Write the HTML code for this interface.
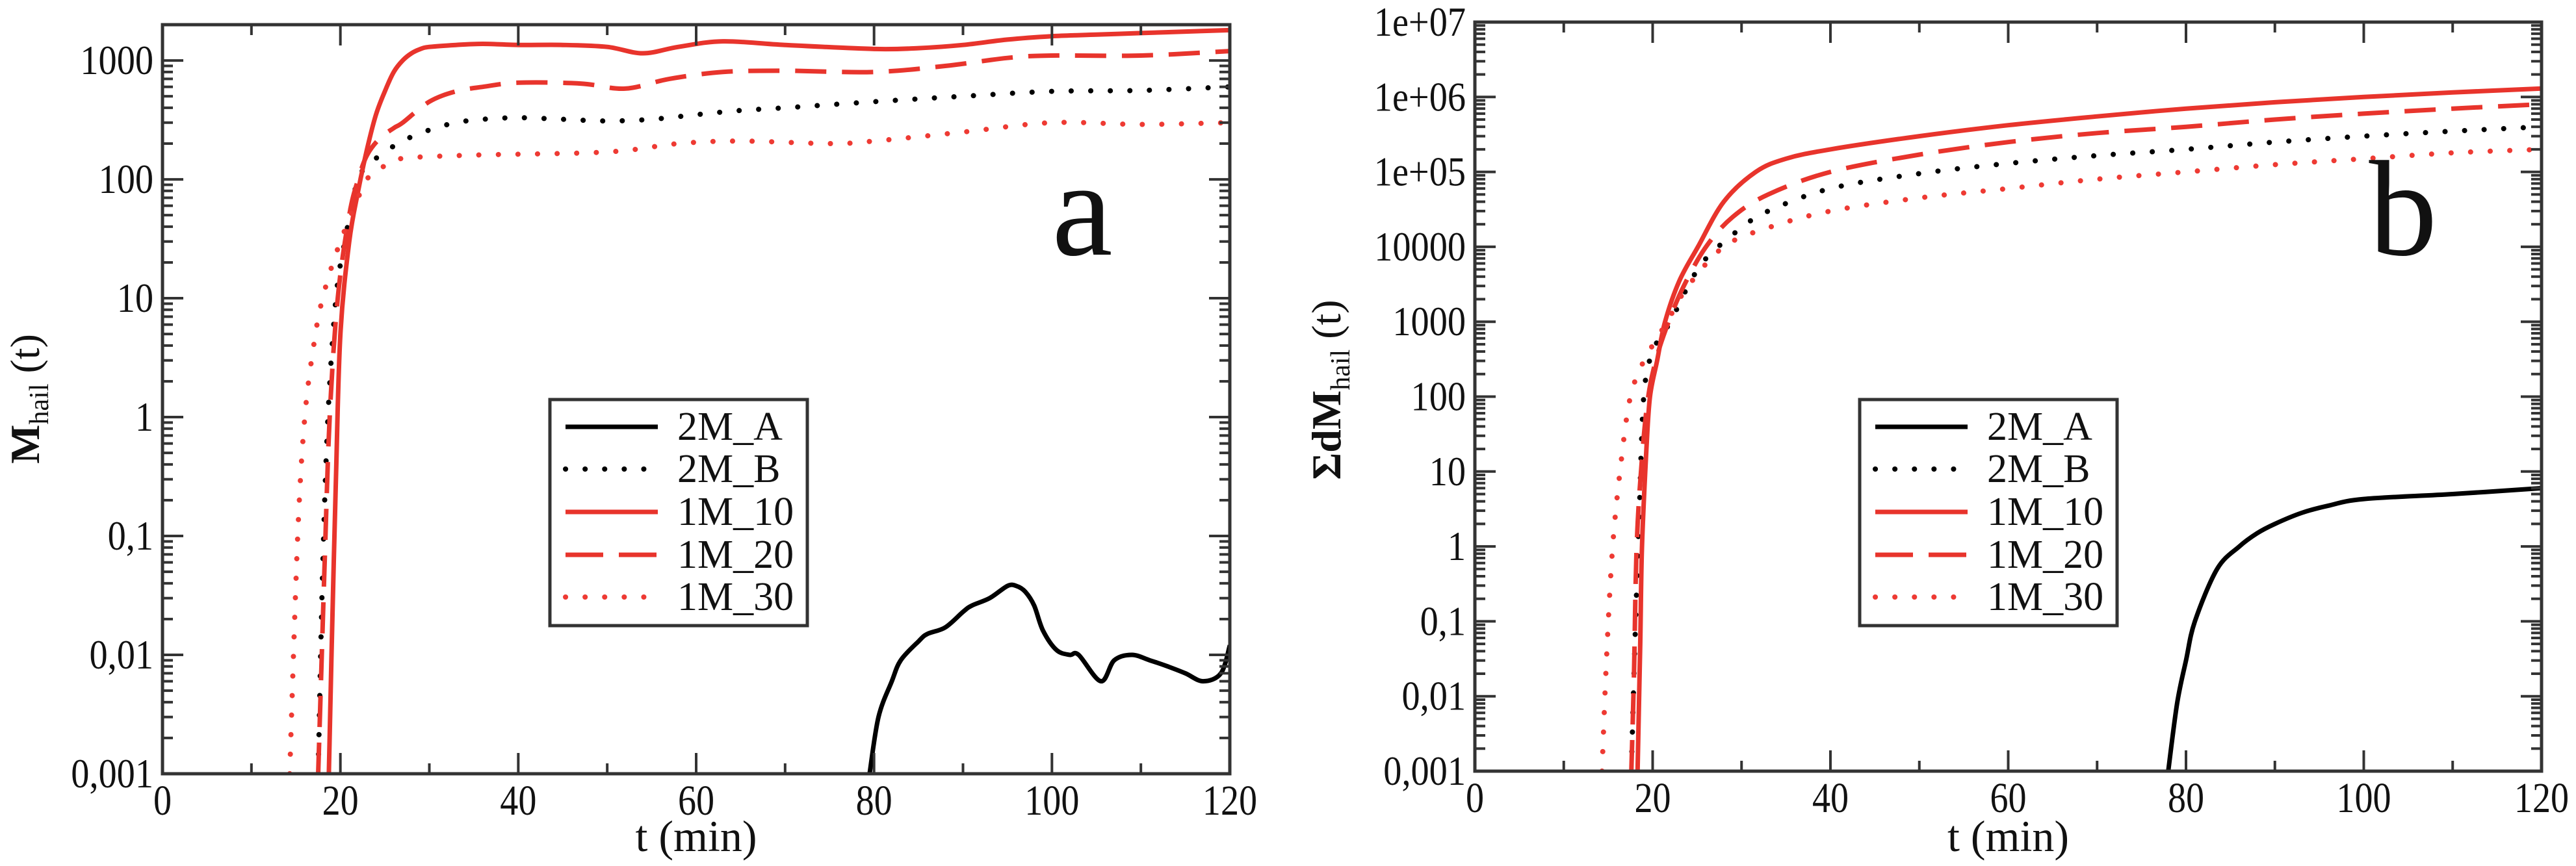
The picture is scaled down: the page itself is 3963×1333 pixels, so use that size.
<!DOCTYPE html>
<html><head><meta charset="utf-8"><style>
html,body{margin:0;padding:0;background:#fff;}
svg{display:block;font-family:"Liberation Serif","DejaVu Serif",serif;}
text{font-family:"Liberation Serif","DejaVu Serif",serif;}
</style></head><body>
<svg id="chart" xmlns="http://www.w3.org/2000/svg" width="3963" height="1333" viewBox="0 0 3963 1333">
<rect x="0" y="0" width="3963" height="1333" fill="#fff"/>
</svg>
<script>
// ---------- Data (panel a) ----------
const xTicks = [0,20,40,60,80,100,120];
const xTickLabels = ["0","20","40","60","80","100","120"];
const yTicksA = [0.001,0.01,0.1,1,10,100,1000];
const yTickLabelsA = ["0,001","0,01","0,1","1","10","100","1000"];
const yTicksB = [0.001,0.01,0.1,1,10,100,1000,10000,1e5,1e6,1e7];
const yTickLabelsB = ["0,001","0,01","0,1","1","10","100","1000","10000","1e+05","1e+06","1e+07"];
const seriesNames = ["2M_A","2M_B","1M_10","1M_20","1M_30"];

const a_2MA_t = [79.5,80.5,82,83,85,86,88,90,91,93,95,96,97,98,99,100.5,102,103,105.5,107,109,111,113,115,117,119,120];
const a_2MA_v = [0.001,0.003,0.006,0.009,0.013,0.015,0.017,0.023,0.026,0.03,0.038,0.038,0.034,0.026,0.016,0.011,0.01,0.01,0.006,0.009,0.01,0.009,0.008,0.007,0.006,0.007,0.012];
const a_2MB_t = [17.5,18,18.6,19.5,20.5,22,24,27,30,33,36,40,45,50,55,60,65,70,80,90,100,110,120];
const a_2MB_v = [0.001,0.05,1,10,30,100,150,210,260,300,320,330,320,310,320,350,380,400,450,500,550,560,600];
const a_1M10_t = [18.7,19,19.5,20,21,22,23,24,25,26,27,28,29,30,33,36,40,45,50,54,58,63,70,80,85,90,95,100,105,110,115,120];
const a_1M10_v = [0.001,0.01,0.3,5,30,80,180,350,550,800,1000,1150,1250,1300,1350,1380,1350,1350,1300,1150,1300,1450,1350,1250,1270,1350,1500,1600,1650,1700,1750,1800];
const a_1M20_t = [17.5,18.2,18.8,19.7,21,22,23,24.4,26,27,30,33,36,40,47,52,57,63,70,80,88,95,100,110,120];
const a_1M20_v = [0.001,0.05,1,10,50,100,160,220,270,300,450,550,600,650,640,580,700,800,820,800,900,1050,1100,1100,1200];
const a_1M30_t = [14.3,15.2,16,17,18,20,23,25,27,35,50,58,65,75,80,90,100,110,120];
const a_1M30_v = [0.001,0.1,1,4,10,30,100,130,150,160,170,200,210,200,210,250,300,290,300];

// ---------- Data (panel b) ----------
const b_2MA_t = [78,79,80,81,83.5,86,88,90,93,96,100,110,120];
const b_2MA_v = [0.001,0.008,0.03,0.1,0.5,1,1.5,2,2.8,3.5,4.3,5,6];
const b_2MB_t = [17.6,18,18.5,19,20,22,24,26,30,33,40,50,60,70,80,90,100,110,120];
const b_2MB_v = [0.001,0.05,3,100,400,1000,3000,7000,18000,30000,60000,95000,130000,165000,200000,250000,300000,350000,400000];
const b_1M10_t = [18.3,18.6,18.8,19.3,19.7,20.5,21.4,23,25.1,28,31.6,35,40,50,60,70,80,90,100,110,120];
const b_1M10_v = [0.001,0.05,1,20,100,300,1000,3500,10000,40000,100000,150000,200000,300000,420000,550000,700000,850000,1000000,1150000,1300000];
const b_1M20_t = [17.6,17.9,18.2,18.8,19.5,20.5,21.8,23.5,26,29,33,40,50,60,70,80,90,100,110,120];
const b_1M20_v = [0.001,0.02,1,15,100,350,1000,3000,10000,25000,50000,100000,170000,250000,330000,400000,500000,600000,700000,800000];
const b_1M30_t = [14.3,14.8,15.5,16.5,17.5,19,20.5,22,24,28,33,40,50,60,70,80,90,100,110,120];
const b_1M30_v = [0.001,0.03,1,15,100,300,600,1200,3000,10000,18000,30000,45000,60000,80000,100000,125000,150000,180000,200000];

const NS = "http://www.w3.org/2000/svg";
const FONT = '"Liberation Serif","DejaVu Serif",serif';
const svg = document.getElementById('chart');
function el(tag, attrs, parent){const e=document.createElementNS(NS,tag);for(const k in attrs)e.setAttribute(k,attrs[k]);(parent||svg).appendChild(e);return e;}

const styles = {
 "2M_A":{stroke:"#000",dash:null,w:7,cap:"butt"},
 "2M_B":{stroke:"#000",dash:"0.1 30",w:8,cap:"round"},
 "1M_10":{stroke:"#e8342c",dash:null,w:7,cap:"butt"},
 "1M_20":{stroke:"#e8342c",dash:"48 24",w:7,cap:"butt"},
 "1M_30":{stroke:"#ee3a33",dash:"0.1 30",w:8,cap:"round"}
};

function smoothPath(P){
 let d='M'+P[0][0].toFixed(1)+','+P[0][1].toFixed(1);
 for(let i=0;i<P.length-1;i++){
  const p0=P[i-1]||P[i],p1=P[i],p2=P[i+1],p3=P[i+2]||P[i+1];
  const c1=[p1[0]+(p2[0]-p0[0])/6,p1[1]+(p2[1]-p0[1])/6];
  const c2=[p2[0]-(p3[0]-p1[0])/6,p2[1]-(p3[1]-p1[1])/6];
  d+=' C'+c1[0].toFixed(1)+','+c1[1].toFixed(1)+' '+c2[0].toFixed(1)+','+c2[1].toFixed(1)+' '+p2[0].toFixed(1)+','+p2[1].toFixed(1);
 }
 return d;
}

function panel(cfg){
 const g = el('g',{});
 
 
 const L=cfg.L,R=cfg.R,T=cfg.T,B=cfg.B;
 const lmin=Math.log10(cfg.ymin), lmax=Math.log10(cfg.ymax);
 const xs = t => L + (t-0)/(120-0)*(R-L);
 const ys = v => B - (Math.log10(v)-lmin)/(lmax-lmin)*(B-T);
 const clipId = cfg.name+'-clip';
 const cp = el('clipPath',{id:clipId},g);
 el('rect',{x:L,y:T,width:R-L,height:B-T},cp);

 const lines = el('g',{'clip-path':`url(#${clipId})`},g);
 
 
 cfg.series.forEach(s=>{
  const st=styles[s.name];
  const P=s.t.map((t,i)=>[xs(t),ys(s.v[i])]);
  const p=el('path',{d:smoothPath(P),fill:'none',stroke:st.stroke,'stroke-width':st.w,'stroke-linecap':st.cap,'stroke-linejoin':'round'},lines);
  if(st.dash)p.setAttribute('stroke-dasharray',st.dash);
  
  
 });

 const tk = el('g',{stroke:'#333','stroke-width':4},g);
 
 
 for(let t=0;t<=120;t+=10){
  const major = t%20===0, len = major?32:16, x=xs(t);
  el('line',{x1:x,y1:B,x2:x,y2:B-len},tk);
  el('line',{x1:x,y1:T,x2:x,y2:T+len},tk);
 }
 for(let d=Math.floor(lmin); d<=Math.ceil(lmax); d++){
  for(let m=1;m<10;m++){
   const v=m*Math.pow(10,d); if(v<cfg.ymin*0.999||v>cfg.ymax*1.001)continue;
   const y=ys(v), len=m===1?32:16;
   el('line',{x1:L,y1:y,x2:L+len,y2:y},tk);
   el('line',{x1:R,y1:y,x2:R-len,y2:y},tk);
  }
 }
 const fr=el('rect',{x:L,y:T,width:R-L,height:B-T,fill:'none',stroke:'#333','stroke-width':5},g);
 
 

 xTicks.forEach((t,i)=>{
  const tx=el('text',{transform:`translate(${xs(t)},${B+63}) scale(0.85,1)`,'text-anchor':'middle','font-size':66,'font-family':FONT,fill:'#111'},g);
  tx.textContent=xTickLabels[i];
  
  
 });
 cfg.yticks.forEach((v,i)=>{
  const tx=el('text',{transform:`translate(${L-14},${ys(v)+21}) scale(0.88,1)`,'text-anchor':'end','font-size':64,'font-family':FONT,fill:'#111'},g);
  tx.textContent=cfg.ylabels[i];
  
  
 });
 const xt=el('text',{x:(L+R)/2,y:1310,'text-anchor':'middle','font-size':68,'font-family':FONT,fill:'#111'},g);
 xt.textContent='t (min)';
 
 
 const yt=el('text',{transform:`translate(${cfg.ytx},${cfg.yty}) rotate(-90)`,'text-anchor':'middle','font-size':64,'font-family':FONT,fill:'#111'},g);
 
 
 const s1=el('tspan',{'font-weight':'bold'},yt); s1.textContent=cfg.ytitle;
 const s2=el('tspan',{'font-size':42,dy:14},yt); s2.textContent='hail';
 const s3=el('tspan',{dy:-14}, yt); s3.textContent='\u00a0(t)';

 const pl=el('text',{x:cfg.letterX,y:cfg.letterY,'text-anchor':'middle','font-size':210,'font-family':FONT,fill:'#111'},g);
 pl.textContent=cfg.letter;
 
 

 const lg=el('g',{},g);
 
 
 el('rect',{x:cfg.legX,y:615,width:396,height:348,fill:'#fff',stroke:'#333','stroke-width':5},lg);
 const rows=[657,722,788,854,919];
 seriesNames.forEach((n,i)=>{
  const st=styles[n];
  const ent=el('g',{},lg);
  
  
  const ln=el('line',{x1:cfg.legX+24,y1:rows[i],x2:cfg.legX+166,y2:rows[i],stroke:st.stroke,'stroke-width':st.w,'stroke-linecap':st.cap},ent);
  if(st.dash)ln.setAttribute('stroke-dasharray',st.dash==="48 24"?"58 24":st.dash);
  const tx=el('text',{x:cfg.legX+196,y:rows[i]+20,'font-size':62,'font-family':FONT,fill:'#111'},ent);
  tx.textContent=n;
 });
}

panel({name:'panel-a',L:250,R:1892,T:38,B:1191,ymin:0.001,ymax:2000,yticks:yTicksA,ylabels:yTickLabelsA,
 ytitle:'M',ytx:60,yty:614,letter:'a',letterX:1665,letterY:392,legX:846,
 series:[{name:'2M_A',t:a_2MA_t,v:a_2MA_v},{name:'2M_B',t:a_2MB_t,v:a_2MB_v},{name:'1M_10',t:a_1M10_t,v:a_1M10_v},{name:'1M_20',t:a_1M20_t,v:a_1M20_v},{name:'1M_30',t:a_1M30_t,v:a_1M30_v}]});
panel({name:'panel-b',L:2269,R:3910,T:34,B:1187,ymin:0.001,ymax:1e7,yticks:yTicksB,ylabels:yTickLabelsB,
 ytitle:'\u03a3dM',ytx:2062,yty:600,letter:'b',letterX:3697,letterY:392,legX:2861,
 series:[{name:'2M_A',t:b_2MA_t,v:b_2MA_v},{name:'2M_B',t:b_2MB_t,v:b_2MB_v},{name:'1M_10',t:b_1M10_t,v:b_1M10_v},{name:'1M_20',t:b_1M20_t,v:b_1M20_v},{name:'1M_30',t:b_1M30_t,v:b_1M30_v}]});
</script>
</body></html>
